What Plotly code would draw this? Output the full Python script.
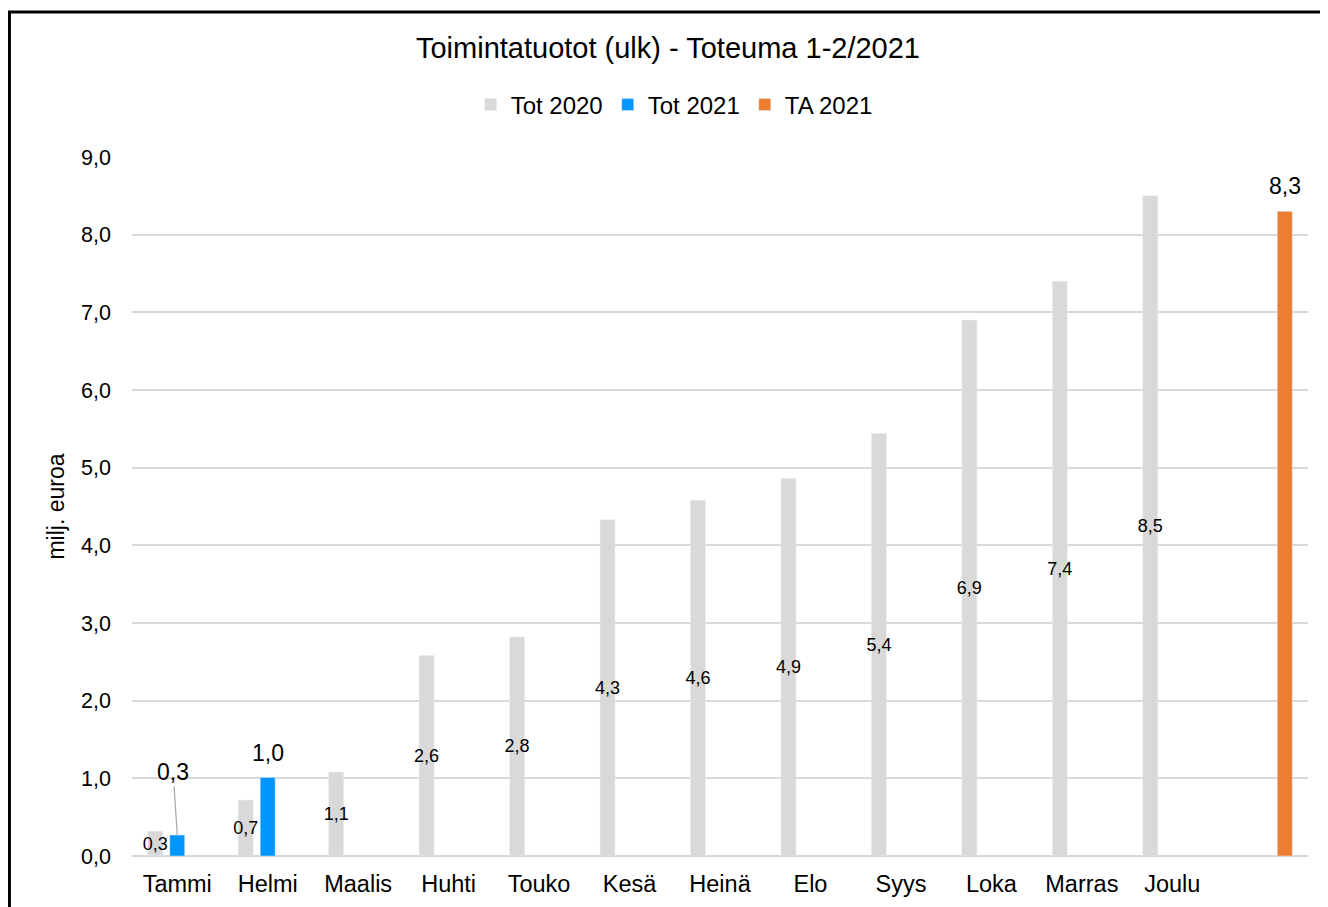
import plotly.graph_objects as go

categories = ["Tammi", "Helmi", "Maalis", "Huhti", "Touko", "Kesä", "Heinä",
              "Elo", "Syys", "Loka", "Marras", "Joulu", " "]
tot_2020 = [0.32, 0.72, 1.08, 2.58, 2.82, 4.33, 4.58, 4.86, 5.44, 6.90, 7.40, 8.50, None]
tot_2021 = [0.27, 1.01, None, None, None, None, None, None, None, None, None, None, None]
ta_2021 = [None, None, None, None, None, None, None, None, None, None, None, None, 8.30]

FONT = "Arial, Liberation Sans, sans-serif"
W, H = 1320, 899
ML, MR, MT, MB = 124, 20, 149, 51
BARGAP = 0.27
N_SERIES = 3


def fmt(v):
    return "" if v is None else f"{v:.1f}".replace(".", ",")


fig = go.Figure()
fig.add_trace(go.Bar(
    name="Tot 2020", x=categories, y=tot_2020, marker_color="#d9d9d9",
    text=[fmt(v) for v in tot_2020], textposition="inside", insidetextanchor="middle",
    textangle=0, textfont=dict(size=18, color="black", family=FONT),
    constraintext="none", cliponaxis=False,
))
fig.add_trace(go.Bar(
    name="Tot 2021", x=categories, y=tot_2021, marker_color="#0096ff",
    textposition="none", cliponaxis=False,
))
fig.add_trace(go.Bar(
    name="TA 2021", x=categories, y=ta_2021, marker_color="#ed7d31",
    textposition="none", cliponaxis=False,
))

# slot width of one bar inside a category group (pixels)
cat_px = (W - ML - MR) / len(categories)
slot_px = cat_px * (1 - BARGAP) / N_SERIES

# Tammi 2021 label moved up with a leader line
fig.add_annotation(
    x=categories[0], y=tot_2021[0], text=fmt(tot_2021[0]),
    showarrow=True, arrowhead=0, arrowwidth=1.2, arrowcolor="#a6a6a6",
    ax=-4, ay=-63, font=dict(size=23, color="black", family=FONT),
)
# other 2021 labels above their bars
for i, v in enumerate(tot_2021):
    if v is not None and i > 0:
        fig.add_annotation(x=categories[i], y=v, text=fmt(v), showarrow=False,
                           yanchor="bottom", yshift=10,
                           font=dict(size=23, color="black", family=FONT))
for i, v in enumerate(ta_2021):
    if v is not None:
        fig.add_annotation(x=categories[i], y=v, text=fmt(v), showarrow=False,
                           yanchor="bottom", yshift=10, xshift=slot_px,
                           font=dict(size=23, color="black", family=FONT))

# outer frame
fig.add_shape(type="rect", xref="paper", yref="paper",
              x0=-0.1042, x1=1.1, y0=-0.2, y1=1.2074,
              line=dict(color="black", width=3), fillcolor="rgba(0,0,0,0)", layer="below")

fig.update_layout(
    width=W, height=H,
    margin=dict(l=ML, r=MR, t=MT, b=MB),
    paper_bgcolor="white", plot_bgcolor="white",
    separators=", ",
    font=dict(family=FONT, color="black"),
    title=dict(text="Toimintatuotot (ulk) - Toteuma 1-2/2021", x=0.5, xanchor="center",
               y=0.9555, yanchor="middle", yref="container",
               font=dict(size=29, color="black", family=FONT)),
    legend=dict(orientation="h", x=0.461, xanchor="center", y=1.0744, yanchor="middle",
                font=dict(size=24, family=FONT), itemwidth=30, traceorder="normal"),
    barmode="group", bargap=BARGAP, bargroupgap=0.32,
    uniformtext=dict(minsize=18, mode="show"),
    showlegend=True,
)
fig.update_xaxes(
    type="category", categoryorder="array", categoryarray=categories,
    range=[-0.5, 12.5], showgrid=False, showline=False, zeroline=False,
    tickfont=dict(size=23.5, color="black", family=FONT), ticks="", ticklabelstandoff=11,
    automargin=False,
)
fig.update_yaxes(
    range=[0, 9], dtick=1, tickformat=".1f", showgrid=True, gridcolor="#d9d9d9", gridwidth=2,
    zeroline=True, zerolinecolor="#d9d9d9", zerolinewidth=2, showline=False,
    tickfont=dict(size=21.5, color="black", family=FONT), ticks="", ticklabelstandoff=20,
    title=dict(text="milj. euroa", font=dict(size=23, color="black", family=FONT), standoff=10),
    automargin=False,
)

fig.write_html("out.html")
